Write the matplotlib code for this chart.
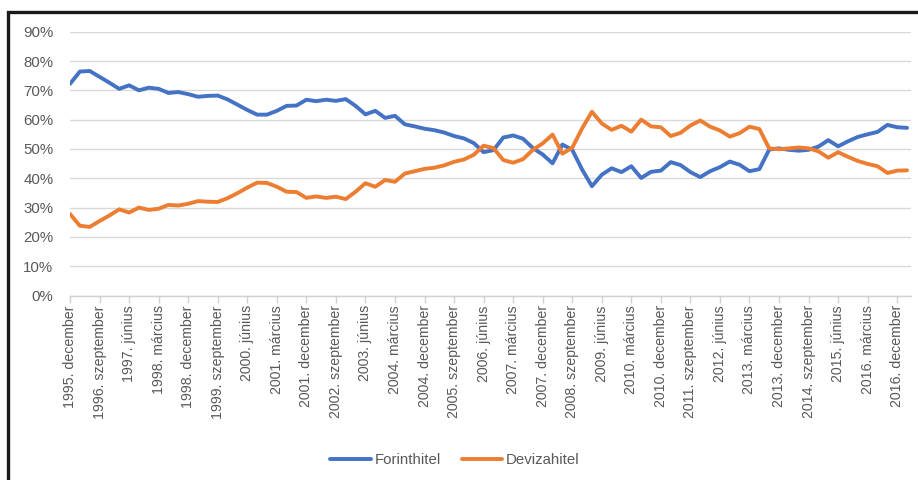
import matplotlib
matplotlib.use('Agg')
import matplotlib.pyplot as plt
from matplotlib.patches import Rectangle
import numpy as np

# Quarterly shares (%), 1995 Q4 .. 2017 Q1
forint = [72.2, 76.4, 76.6, 74.6, 72.6, 70.5, 71.7, 70.0, 70.9, 70.5,
          69.1, 69.4, 68.7, 67.8, 68.1, 68.2, 66.9, 65.1, 63.3, 61.7,
          61.7, 63.0, 64.7, 64.8, 66.8, 66.3, 66.8, 66.4, 67.0, 64.7,
          61.8, 63.0, 60.6, 61.3, 58.4, 57.7, 56.9, 56.4, 55.6, 54.4,
          53.6, 52.0, 48.9, 49.6, 53.9, 54.6, 53.5, 50.3, 48.1, 45.1,
          51.5, 49.7, 43.0, 37.3, 41.2, 43.4, 42.1, 44.1, 40.1, 42.2,
          42.6, 45.5, 44.5, 42.1, 40.4, 42.4, 43.8, 45.7, 44.6, 42.4,
          43.1, 49.8, 50.2, 49.7, 49.4, 49.7, 50.8, 53.0, 50.9, 52.6,
          54.1, 55.0, 55.8, 58.2, 57.4, 57.2]

deviza = [27.8, 23.8, 23.4, 25.4, 27.3, 29.4, 28.3, 30.0, 29.2, 29.6,
          30.9, 30.7, 31.3, 32.2, 32.0, 31.9, 33.2, 34.9, 36.8, 38.5,
          38.4, 37.1, 35.4, 35.3, 33.3, 33.8, 33.3, 33.7, 32.9, 35.4,
          38.3, 37.1, 39.4, 38.8, 41.6, 42.4, 43.2, 43.6, 44.4, 45.6,
          46.4, 48.0, 51.1, 50.3, 46.2, 45.3, 46.5, 49.7, 51.9, 54.9,
          48.4, 50.4, 57.0, 62.7, 58.7, 56.5, 57.9, 55.9, 60.0, 57.7,
          57.4, 54.4, 55.5, 58.0, 59.7, 57.6, 56.3, 54.2, 55.4, 57.6,
          56.8, 50.2, 49.9, 50.2, 50.5, 50.2, 49.2, 47.0, 48.9, 47.3,
          45.9, 44.9, 44.1, 41.8, 42.6, 42.7]

tick_labels = ["1995. december", "1996. szeptember", "1997. június", "1998. március",
               "1998. december", "1999. szeptember", "2000. június", "2001. március",
               "2001. december", "2002. szeptember", "2003. június", "2004. március",
               "2004. december", "2005. szeptember", "2006. június", "2007. március",
               "2007. december", "2008. szeptember", "2009. június", "2010. március",
               "2010. december", "2011. szeptember", "2012. június", "2013. március",
               "2013. december", "2014. szeptember", "2015. június", "2016. március",
               "2016. december"]

series_names = ["Forinthitel", "Devizahitel"]
y_ticks = [0, 10, 20, 30, 40, 50, 60, 70, 80, 90]

plt.rcParams['font.family'] = ['Liberation Sans', 'DejaVu Sans']

W, H = 918, 480
fig = plt.figure(figsize=(W / 100, H / 100), dpi=100)
left, right = 70 / W, 911 / W
bottom, top = 1 - 295.5 / H, 1 - 31.7 / H
ax = fig.add_axes([left, bottom, right - left, top - bottom])

x = np.arange(len(forint))
ax.plot(x, forint, color='#4472C4', lw=2.8, solid_joinstyle='round',
        solid_capstyle='round', label=series_names[0], zorder=3)
ax.plot(x, deviza, color='#ED7D31', lw=2.8, solid_joinstyle='round',
        solid_capstyle='round', label=series_names[1], zorder=4)

ax.set_xlim(0, 85.4)
ax.set_ylim(0, 90)
ax.set_yticks(y_ticks)
ax.set_yticklabels([f"{v}%" for v in y_ticks])
ax.grid(axis='y', color='#D9D9D9', lw=1, zorder=0)
ax.set_axisbelow(True)

ax.set_xticks(np.arange(len(tick_labels)) * 3)
ax.set_xticklabels(tick_labels, rotation=90)

for s in ['top', 'right', 'left']:
    ax.spines[s].set_visible(False)
ax.spines['bottom'].set_color('#D0D0D0')
ax.spines['bottom'].set_linewidth(1)

ax.tick_params(axis='x', length=5, color='#D0D0D0', width=1, pad=2,
               labelsize=10.2, labelcolor='#595959')
ax.tick_params(axis='y', length=0, pad=12, labelsize=10.8, labelcolor='#595959')

fig.legend(loc='center', bbox_to_anchor=(455 / W, 1 - 460 / H), ncol=2,
           frameon=False, handlelength=2.7, handletextpad=0.25,
           columnspacing=1.4, fontsize=10.8, labelcolor='#595959')

fig.patches.append(Rectangle((8 / W, -0.1), 1.2, (1 - 11.5 / H) + 0.1,
                             transform=fig.transFigure, fill=False,
                             edgecolor='#1a1a1a', lw=2.4))

fig.savefig('out.png', dpi=100)
